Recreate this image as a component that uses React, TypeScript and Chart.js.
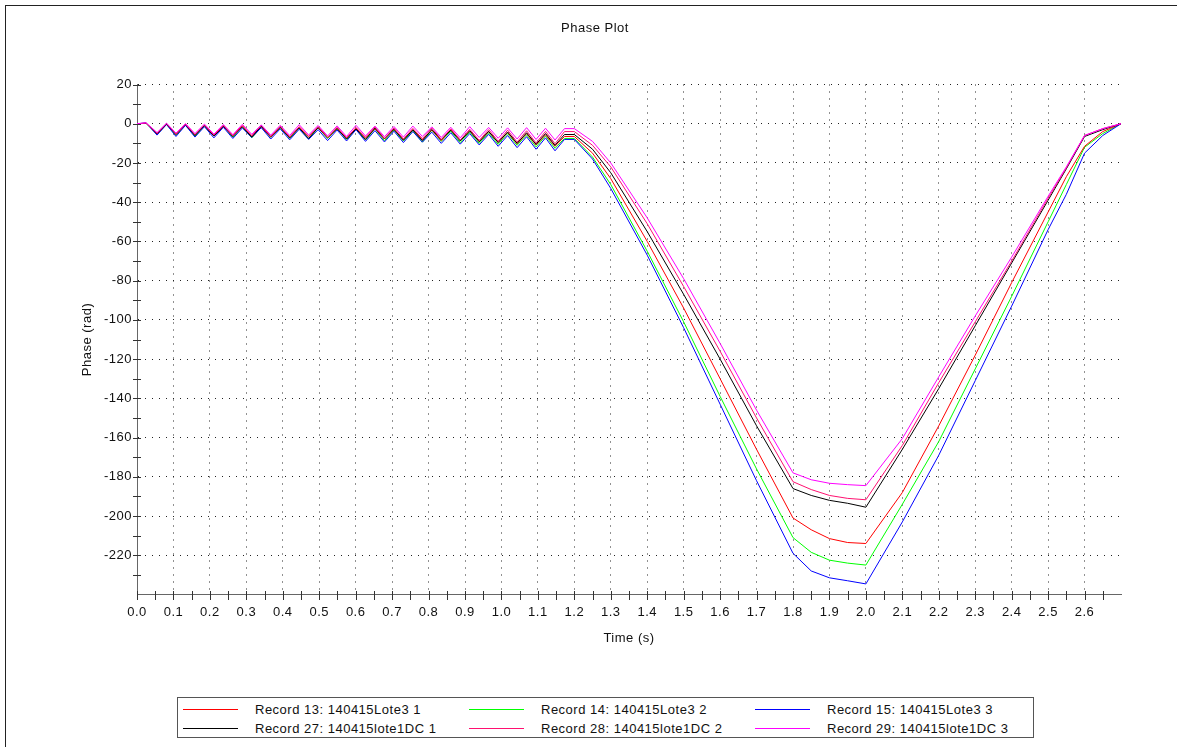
import React, { useEffect, useRef } from 'react';
import { Chart, registerables } from 'chart.js';

Chart.register(...registerables);

const TITLE = 'Phase Plot';
const X_TITLE = 'Time (s)';
const Y_TITLE = 'Phase (rad)';

// time stamps (s) at which the curves were read
const TIME_S = [
  0, 0.025,
  0.055, 0.081, 0.107, 0.133, 0.159, 0.185, 0.211, 0.237, 0.263, 0.289,
  0.315, 0.341, 0.367, 0.393, 0.419, 0.445, 0.471, 0.497, 0.523, 0.549,
  0.575, 0.601, 0.627, 0.653, 0.679, 0.705, 0.731, 0.757, 0.783, 0.809,
  0.835, 0.861, 0.887, 0.913, 0.939, 0.965, 0.991, 1.017, 1.043, 1.069,
  1.095, 1.121, 1.147, 1.173,
  1.2,
  1.25, 1.3, 1.4, 1.5, 1.6, 1.7, 1.8, 1.85, 1.9, 1.95, 2.0,
  2.1, 2.2, 2.3, 2.4, 2.5, 2.55, 2.6, 2.65, 2.7,
];

const REC13 = [
  0, 0.3,
  -5.2, -0.2, -5.5, -0.5, -5.8, -0.8, -6.2, -1.2, -6.0, -1.0,
  -6.5, -1.5, -6.8, -1.8, -7.0, -1.6, -6.6, -2.0, -7.2, -2.3,
  -7.5, -2.1, -7.3, -2.5, -7.8, -2.8, -8.0, -3.0, -8.3, -3.2,
  -8.6, -3.0, -8.4, -3.6, -9.0, -4.0, -9.5, -4.5, -10.2, -5.0,
  -10.8, -5.6, -11.5, -6.5,
  -6.5,
  -15, -28, -60, -94, -130, -166, -201, -207, -211.5, -213.5, -214,
  -188, -154, -118, -81, -45, -27, -11.5, -4, 0,
];

const REC14 = [
  0, 0.2,
  -5.5, -0.3, -6.0, -0.6, -6.3, -1.2, -6.0, -1.0, -6.8, -1.6,
  -7.2, -1.8, -7.0, -2.0, -7.5, -2.2, -7.8, -2.0, -7.6, -2.5,
  -8.0, -2.8, -8.3, -2.6, -8.6, -3.2, -8.8, -3.5, -9.4, -3.3,
  -9.0, -3.8, -9.6, -4.2, -10.0, -4.6, -10.5, -5.0, -11.0, -5.6,
  -11.8, -6.2, -12.5, -7.5,
  -7.5,
  -17, -31, -65, -101, -139, -176, -211, -218.5, -222.5, -224, -225,
  -194, -162, -125, -88, -50, -31, -12, -5, 0,
];

const REC15 = [
  0, 0.4,
  -5.8, -0.4, -6.5, -0.8, -6.8, -1.5, -7.2, -1.8, -7.5, -2.2,
  -7.0, -2.0, -7.8, -2.6, -8.2, -2.8, -8.0, -3.0, -8.6, -3.2,
  -8.8, -3.0, -9.0, -3.5, -9.3, -3.8, -9.6, -4.0, -9.4, -4.3,
  -10.0, -4.6, -10.4, -5.0, -10.8, -5.4, -11.5, -6.0, -12.2, -6.6,
  -13.0, -7.2, -13.8, -8.0,
  -8,
  -18, -33, -67, -104, -143, -182, -219, -228, -231.5, -233, -234.6,
  -203, -169, -131, -93, -54, -36, -15, -6, 0,
];

const REC27 = [
  0, 0.2,
  -5.0, -0.1, -5.4, -0.4, -6.0, -0.9, -6.3, -1.3, -6.5, -1.5,
  -6.8, -1.2, -6.6, -1.8, -7.2, -2.1, -7.5, -1.9, -7.0, -2.4,
  -7.8, -2.6, -8.0, -2.2, -7.7, -2.8, -8.4, -3.1, -8.6, -2.9,
  -8.2, -3.3, -8.8, -3.6, -9.2, -3.9, -9.6, -4.2, -10.0, -4.6,
  -10.5, -5.0, -11.0, -5.5,
  -5.5,
  -13, -25, -55, -87, -120, -154, -186, -189.5, -192, -193.5, -195.5,
  -166, -135, -103, -71, -39, -23, -6.5, -3, 0,
];

const REC28 = [
  0, 0.3,
  -4.8, 0.0, -5.2, -0.3, -5.5, -0.6, -5.8, -0.9, -6.2, -1.1,
  -6.0, -0.8, -6.5, -1.3, -6.8, -1.6, -6.4, -1.4, -7.0, -1.8,
  -7.2, -2.0, -6.9, -1.7, -7.5, -2.2, -7.8, -2.4, -7.6, -2.2,
  -8.0, -2.6, -8.3, -2.8, -8.5, -3.0, -8.9, -3.3, -9.3, -3.6,
  -9.8, -3.9, -10.2, -4.0,
  -4,
  -11, -22, -51, -83, -116, -150, -182.5, -186.5, -189.5, -191, -191.7,
  -164, -132, -101, -70, -38, -22.5, -6, -2.5, 0,
];

const REC29 = [
  0, 0.5,
  -4.5, 0.3, -4.8, 0.1, -5.0, -0.2, -5.3, -0.4, -5.6, -0.3,
  -5.4, -0.6, -5.8, -0.8, -6.0, -0.5, -5.7, -0.9, -6.2, -1.1,
  -6.5, -0.8, -6.2, -1.2, -6.6, -1.4, -6.8, -1.2, -6.5, -1.6,
  -7.0, -1.8, -7.2, -1.5, -7.0, -1.9, -7.4, -2.1, -7.8, -2.0,
  -8.0, -2.3, -8.3, -2.5,
  -2.5,
  -9, -20, -48, -79, -112, -146, -178, -181.5, -183.3, -184, -184.5,
  -160.5, -129, -98, -68, -37, -22, -6, -2.5, 0,
];

const SERIES_LABELS = [
  'Record 13: 140415Lote3 1',
  'Record 14: 140415Lote3 2',
  'Record 15: 140415Lote3 3',
  'Record 27: 140415lote1DC 1',
  'Record 28: 140415lote1DC 2',
  'Record 29: 140415lote1DC 3',
];
const SERIES_COLORS = ['#ff0000', '#00ff00', '#0000ff', '#000000', '#ff1070', '#ff00ff'];
const SERIES_VALUES = [REC13, REC14, REC15, REC27, REC28, REC29];
const SERIES_ORDER = [4, 5, 3, 2, 1, 0];

const X_MIN = 0;
const X_MAX = 2.7;
const X_STEP = 0.1;
const X_MINOR = 0.05;
const Y_MIN = -240;
const Y_MAX = 20;
const Y_STEP = 20;
const Y_MINOR = 10;

const FONT_FAMILY = "'Liberation Sans', Arial, sans-serif";
const TEXT_COLOR = '#111';

const spacingPlugin = {
  id: 'letterSpacing',
  beforeInit(chart: any) {
    chart.ctx.letterSpacing = '0.5px';
  },
  beforeLayout(chart: any) {
    chart.ctx.letterSpacing = '0.5px';
  },
  beforeDraw(chart: any) {
    chart.ctx.letterSpacing = '0.5px';
  },
};

// chart title, centred on the whole framed panel
const titlePlugin = {
  id: 'panelTitle',
  afterDraw(chart: any) {
    const { ctx } = chart;
    ctx.save();
    ctx.letterSpacing = '0.5px';
    ctx.font = `13px ${FONT_FAMILY}`;
    ctx.fillStyle = TEXT_COLOR;
    ctx.textAlign = 'center';
    ctx.textBaseline = 'middle';
    ctx.fillText(TITLE, chart.width / 2, 28.5);
    ctx.restore();
  },
};

const axisTicksPlugin = {
  id: 'axisTicks',
  afterDraw(chart: any) {
    const { ctx, chartArea, scales } = chart;
    const xs = scales.x;
    const ys = scales.y;
    ctx.save();
    ctx.strokeStyle = '#333';
    ctx.lineWidth = 1;
    ctx.setLineDash([]);
    ctx.beginPath();
    const nx = Math.round((X_MAX - X_MIN) / X_MINOR);
    const by = Math.round(chartArea.bottom);
    for (let i = 0; i < nx; i++) {
      const px = Math.round(xs.getPixelForValue(X_MIN + i * X_MINOR)) + 0.5;
      ctx.moveTo(px, by - 4);
      ctx.lineTo(px, by + 5);
    }
    const ny = Math.round((Y_MAX - Y_MIN) / Y_MINOR);
    const lx = Math.round(chartArea.left);
    for (let i = 1; i <= ny; i++) {
      const py = Math.round(ys.getPixelForValue(Y_MIN + i * Y_MINOR)) + 0.5;
      ctx.moveTo(lx - 4, py);
      ctx.lineTo(lx + 4, py);
    }
    ctx.stroke();
    ctx.restore();
  },
};

function PhaseChart() {
  const ref = useRef<HTMLCanvasElement | null>(null);

  useEffect(() => {
    if (!ref.current) return;
    const datasets = SERIES_VALUES.map((vals, si) => ({
      label: SERIES_LABELS[si],
      data: TIME_S.map((t, i) => ({ x: t, y: vals[i] })),
      borderColor: SERIES_COLORS[si],
      backgroundColor: SERIES_COLORS[si],
      borderWidth: 1,
      pointRadius: 0,
      tension: 0,
      fill: false,
      order: SERIES_ORDER[si],
    }));
    const tickFont = { family: FONT_FAMILY, size: 13 };
    const chart = new Chart(ref.current, {
      type: 'line',
      data: { datasets },
      plugins: [spacingPlugin, axisTicksPlugin, titlePlugin],
      options: {
        responsive: false,
        animation: false,
        devicePixelRatio: 1,
        events: [],
        layout: { padding: { left: 0, right: 69, top: 84.5, bottom: 92.5 } },
        plugins: {
          legend: { display: false },
          tooltip: { enabled: false },
          title: { display: false },
        },
        scales: {
          x: {
            type: 'linear',
            min: X_MIN,
            max: X_MAX,
            afterBuildTicks: (scale: any) => {
              scale.ticks = scale.ticks.filter((t: any) => t.value < X_MAX - X_STEP / 2);
            },
            afterFit: (scale: any) => {
              scale.height = 60;
            },
            ticks: {
              stepSize: X_STEP,
              autoSkip: false,
              maxRotation: 0,
              padding: 10,
              color: TEXT_COLOR,
              font: tickFont,
              callback: (v: any) => Number(v).toFixed(1),
            },
            grid: { color: '#222', lineWidth: 1, drawTicks: false },
            border: { display: true, color: '#666', width: 1, dash: [1, 6] },
            title: {
              display: true,
              text: X_TITLE,
              color: TEXT_COLOR,
              font: tickFont,
              padding: { top: 0, bottom: 8.7 },
            },
          },
          y: {
            type: 'linear',
            min: Y_MIN,
            max: Y_MAX,
            afterFit: (scale: any) => {
              scale.width = 137;
            },
            ticks: {
              stepSize: Y_STEP,
              autoSkip: false,
              padding: 5,
              color: TEXT_COLOR,
              font: tickFont,
              callback: (v: any) => (Number(v) === Y_MIN ? '' : String(v)),
            },
            grid: { color: '#222', lineWidth: 1, drawTicks: false },
            border: { display: true, color: '#666', width: 1, dash: [1, 6] },
            title: {
              display: true,
              text: Y_TITLE,
              color: TEXT_COLOR,
              font: tickFont,
              padding: { top: 80, bottom: 0 },
            },
          },
        },
      } as any,
    });
    return () => chart.destroy();
  }, []);

  return (
    <canvas
      ref={ref}
      width={1190}
      height={747}
      style={{ display: 'block', position: 'absolute', left: 0, top: 0, width: 1190, height: 747 }}
    />
  );
}

function Legend() {
  return (
    <div
      style={{
        position: 'absolute',
        left: 177,
        top: 697,
        width: 857,
        height: 41,
        boxSizing: 'border-box',
        border: '1px solid #555',
        background: '#fff',
      }}
    >
      {SERIES_LABELS.map((label, i) => {
        const col = i % 3;
        const row = Math.floor(i / 3);
        return (
          <React.Fragment key={label}>
            <div
              style={{
                position: 'absolute',
                left: 5 + col * 286,
                top: 11 + row * 19,
                width: 55,
                height: 0,
                borderTop: `1px solid ${SERIES_COLORS[i]}`,
              }}
            />
            <div
              style={{
                position: 'absolute',
                left: 77 + col * 286,
                top: 4 + row * 19,
                height: 16,
                lineHeight: '16px',
                fontFamily: FONT_FAMILY,
                fontSize: 13,
                letterSpacing: '0.5px',
                color: TEXT_COLOR,
                whiteSpace: 'nowrap',
              }}
            >
              {label}
            </div>
          </React.Fragment>
        );
      })}
    </div>
  );
}

export default function App() {
  return (
    <div
      style={{
        position: 'fixed',
        left: 0,
        top: 0,
        width: 1177,
        height: 747,
        overflow: 'hidden',
        background: '#fff',
      }}
    >
      <div
        style={{
          position: 'absolute',
          left: 5,
          top: 5,
          width: 1185,
          height: 800,
          border: '1px solid #222',
          boxSizing: 'border-box',
        }}
      />
      <PhaseChart />
      <Legend />
    </div>
  );
}
